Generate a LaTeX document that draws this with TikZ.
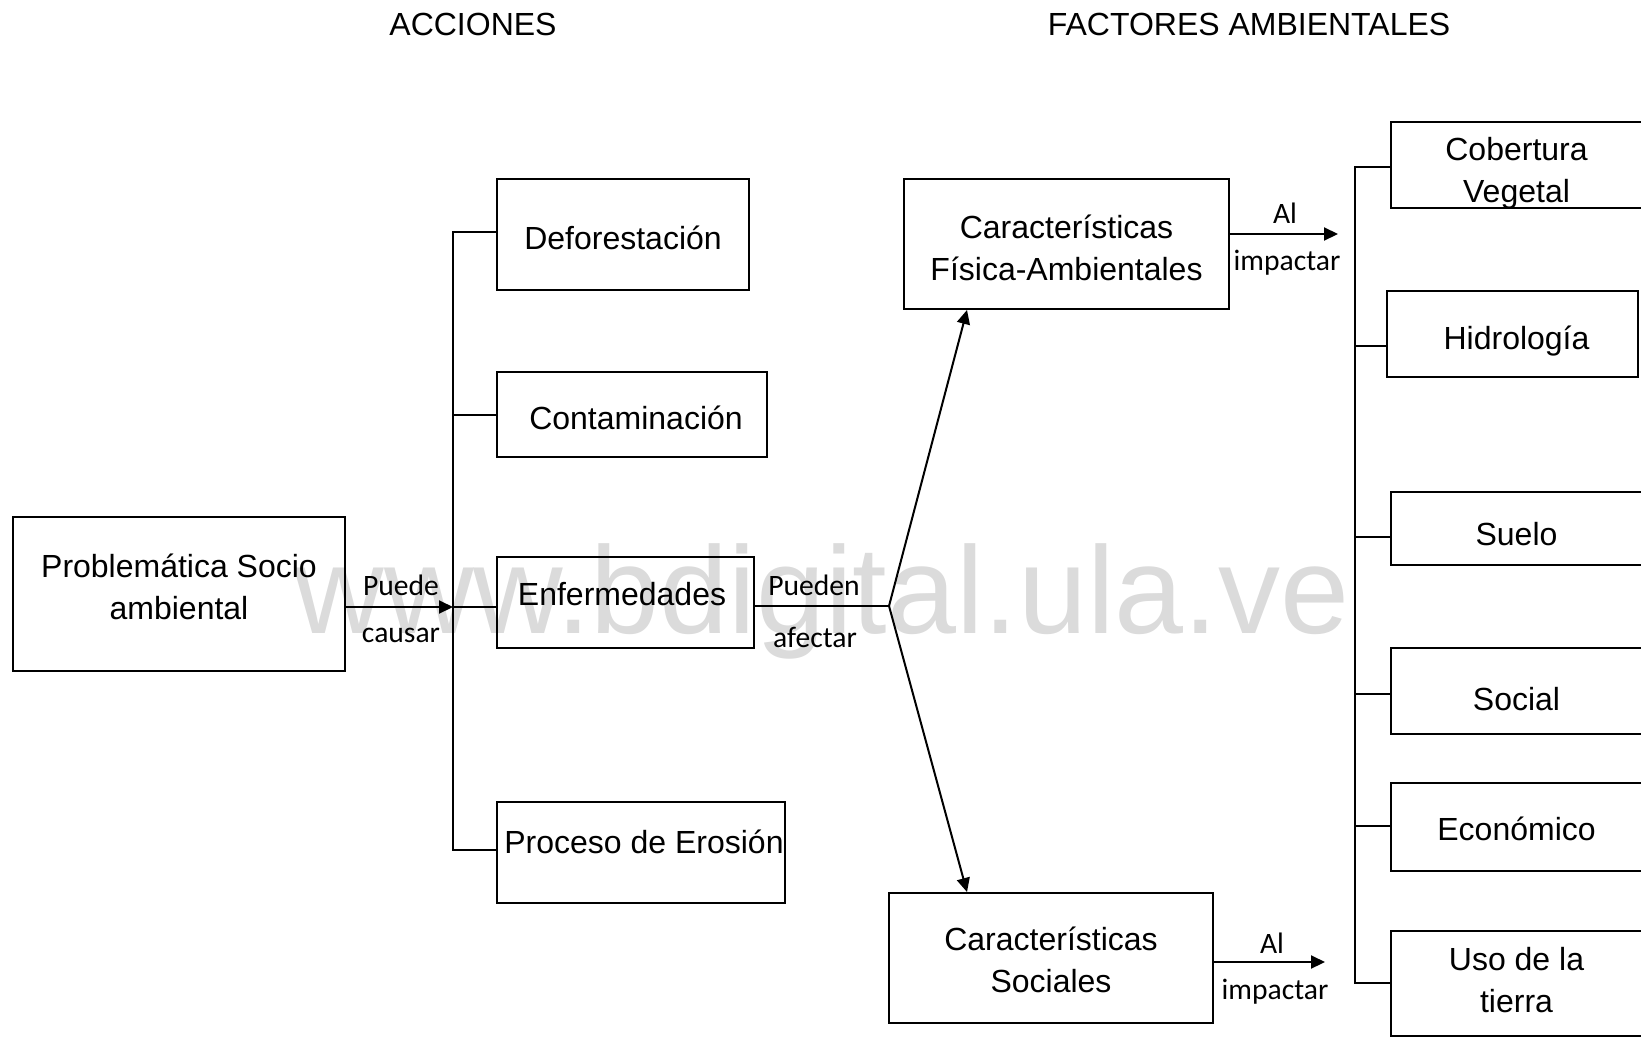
\documentclass[tikz,border=0pt]{standalone}
\usepackage{fontspec}
\setmainfont{Liberation Sans}
\newfontfamily\calib{Carlito}
\usepackage{tikz}
\usetikzlibrary{arrows.meta,positioning}

\tikzset{
	caja/.style={draw, line width=1pt, inner sep=0pt},
	texto/.style={inner sep=0pt, align=center, font=\fontsize{16}{21}\selectfont},
	etiq/.style={font=\calib\fontsize{14.8}{16}\selectfont},
	flecha/.style={-{Triangle[length=7pt,width=6.5pt]}, line width=1pt},
	linea/.style={line width=1pt}
}

\begin{document}
\begin{tikzpicture}[x=0.5pt,y=-0.5pt]
				\useasboundingbox (0,0) rectangle (1641,1038);
				\clip (0,0) rectangle (1641,1038);
				% marca de agua
				\node[anchor=base, text=black!14, font=\fontsize{62}{62}\selectfont] (marca) at (822,633) {www.bdigital.ula.ve};
				% titulos
				\node[texto] (tacc) at (473,24) {ACCIONES};
				\node[texto] (tfac) at (1249,24) {FACTORES AMBIENTALES};
				% cajas
				\node[caja, minimum width=166pt, minimum height=77pt] (prob) at (179,594) {};
				\node[caja, minimum width=126pt, minimum height=55.5pt] (defo) at (623,234.5) {};
				\node[caja, minimum width=135pt, minimum height=42.5pt] (conta) at (632,414.5) {};
				\node[caja, minimum width=128.5pt, minimum height=45.5pt] (enfe) at (625.5,602.5) {};
				\node[caja, minimum width=144pt, minimum height=50.5pt] (eros) at (641,852.5) {};
				\node[caja, minimum width=162.5pt, minimum height=65pt] (fis) at (1066.5,244) {};
				\node[caja, minimum width=162pt, minimum height=65pt] (soc) at (1051,958) {};
				\node[caja, minimum width=126pt, minimum height=43pt] (cob) at (1517,165) {};
				\node[caja, minimum width=125.5pt, minimum height=43pt] (hid) at (1512.5,334) {};
				\node[caja, minimum width=126pt, minimum height=36.5pt] (sue) at (1517,528.5) {};
				\node[caja, minimum width=126pt, minimum height=43pt] (soci) at (1517,691) {};
				\node[caja, minimum width=126pt, minimum height=44pt] (eco) at (1517,827) {};
				\node[caja, minimum width=126pt, minimum height=52.5pt] (uso) at (1517,983.5) {};
				% textos de las cajas
				\node[texto] (probt) at (179,587) {Problemática Socio\\ambiental};
				\node[texto] (defot) at (623,237.5) {Deforestación};
				\node[texto] (contat) at (636,417.5) {Contaminación};
				\node[texto] (enfet) at (622,594) {Enfermedades};
				\node[texto] (erost) at (644,841.5) {Proceso de Erosión};
				\node[texto] (fist) at (1066.5,247.5) {Características\\Física-Ambientales};
				\node[texto] (soct) at (1051,959.5) {Características\\Sociales};
				\node[texto] (cobt) at (1516.5,173) {Cobertura\\Vegetal};
				\node[texto] (hidt) at (1516.5,341) {Hidrología};
				\node[texto] (suet) at (1516.5,534) {Suelo};
				\node[texto] (socit) at (1516.5,699) {Social};
				\node[texto] (ecot) at (1516.5,829) {Económico};
				\node[texto] (usot) at (1516.5,980) {Uso de la\\tierra};
				% puntos de union
				\coordinate (jl) at (453,607);
				\coordinate (lbt) at (453,232);
				\coordinate (lbb) at (453,850);
				\coordinate (jr) at (889,606);
				\coordinate (ta) at (1338,234);
				\coordinate (ba) at (1325,962);
				\coordinate (rbt) at (1355,167);
				\coordinate (rbb) at (1355,983);
				% acciones
				\draw[flecha] (prob.east |- jl) -- (jl);
				\node[etiq] (puede) at (401,585) {Puede};
				\node[etiq] (causar) at (401,635) {causar};
				\draw[linea] (defo.west |- lbt) -- (lbt) -- (lbb) -- (eros.west |- lbb);
				\draw[linea] (lbt |- conta.west) -- (conta.west);
				\draw[linea] (jl) -- (enfe.west |- jl);
				% factores
				\draw[linea] (enfe.east |- jr) -- (jr);
				\draw[flecha] (jr) -- ([xshift=32pt]fis.south west);
				\draw[flecha] (jr) -- ([xshift=39.5pt]soc.north west);
				\node[etiq] (pueden) at (814,585) {Pueden};
				\node[etiq] (afectar) at (815,637) {afectar};
				\draw[flecha] (fis.east |- ta) -- (ta);
				\node[etiq] (al1) at (1285,213) {Al};
				\node[etiq] (imp1) at (1287,263) {impactar};
				\draw[flecha] (soc.east |- ba) -- (ba);
				\node[etiq] (al2) at (1272,943) {Al};
				\node[etiq] (imp2) at (1275,992) {impactar};
				% rama derecha
				\draw[linea] (cob.west |- rbt) -- (rbt) -- (rbb) -- (uso.west |- rbb);
				\draw[linea] (rbt |- 0,346) -- ([yshift=-6pt]hid.west);
				\draw[linea] (rbt |- 0,537) -- ([yshift=-4.25pt]sue.west);
				\draw[linea] (rbt |- 0,694) -- ([yshift=-1.5pt]soci.west);
				\draw[linea] (rbt |- 0,826) -- ([yshift=0.5pt]eco.west);
			\end{tikzpicture}
\end{document}
